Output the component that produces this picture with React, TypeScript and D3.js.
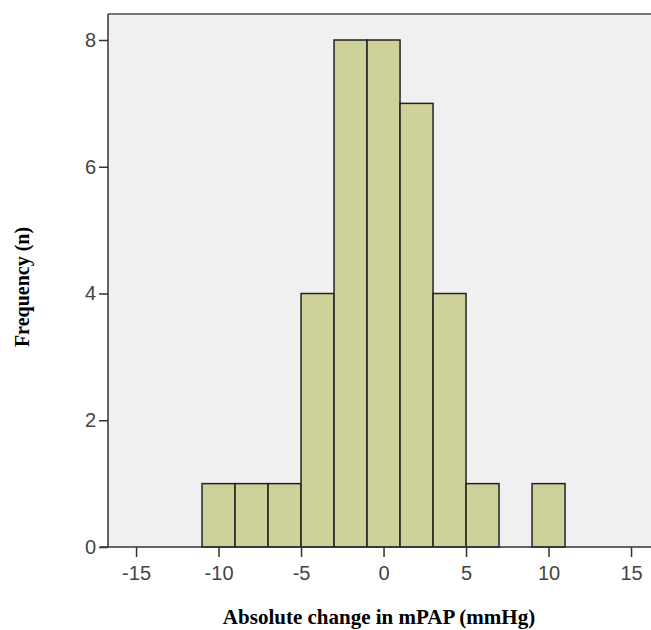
import * as d3 from 'd3';
import React, {useRef, useEffect} from 'react';

// histogram bins (width 2 mmHg) and counts
const binStarts = [-11, -9, -7, -5, -3, -1, 1, 3, 5, 7, 9];
const counts = [1, 1, 1, 4, 8, 8, 7, 4, 1, 0, 1];
const xTicks = [-15, -10, -5, 0, 5, 10, 15];
const yTicks = [0, 2, 4, 6, 8];

function Histogram(){
    const ref = useRef<SVGSVGElement>(null);

    const W = 651, H = 630;
    const left = 108, top = 14, bottom = 547, right = 660;

    useEffect(() => {
        const svg = d3.select(ref.current);
        svg.selectAll('*').remove();

        // plot runs off the right edge of the picture, 16.5px per mmHg
        const xMin = -16.7;
        const x = d3.scaleLinear().domain([xMin, xMin + (right - left) / 16.5]).range([left, right]);
        const y = d3.scaleLinear().domain([0, 8]).range([bottom, 40]);

        // plot background
        svg.append('rect')
            .attr('x', left).attr('y', top)
            .attr('width', right - left).attr('height', bottom - top)
            .attr('fill', '#f0f0f0');
        svg.append('line')
            .attr('x1', left).attr('x2', right)
            .attr('y1', top).attr('y2', top)
            .attr('stroke', '#777').attr('stroke-width', 2);

        // bars
        const data = binStarts.map((b, i) => ({b, n: counts[i]})).filter(d => d.n > 0);
        svg.selectAll('rect.bar')
            .data(data)
            .enter()
            .append('rect')
            .attr('class', 'bar')
            .attr('x', d => x(d.b))
            .attr('y', d => y(d.n))
            .attr('width', d => x(d.b + 2) - x(d.b))
            .attr('height', d => y(0) - y(d.n))
            .attr('fill', '#cfd19b')
            .attr('stroke', '#222')
            .attr('stroke-width', 1.5);

        // x axis
        const gx = svg.append('g')
            .attr('transform', `translate(0, ${bottom})`)
            .call(d3.axisBottom(x).tickValues(xTicks).tickSize(10).tickPadding(6).tickFormat(d => String(d)));
        gx.select('.domain').remove();
        svg.append('line')
            .attr('x1', left - 8).attr('x2', right)
            .attr('y1', bottom).attr('y2', bottom)
            .attr('stroke', '#333').attr('stroke-width', 1.5);

        // y axis
        const gy = svg.append('g')
            .attr('transform', `translate(${left}, 0)`)
            .call(d3.axisLeft(y).tickValues(yTicks).tickSize(9).tickPadding(3).tickFormat(d => String(d)));
        gy.select('.domain').remove();
        svg.append('line')
            .attr('x1', left).attr('x2', left)
            .attr('y1', top).attr('y2', bottom)
            .attr('stroke', '#333').attr('stroke-width', 1.5);

        svg.selectAll('.tick line').attr('stroke', '#333').attr('stroke-width', 1.5);
        svg.selectAll('.tick text')
            .attr('fill', '#444')
            .style('font-family', 'Liberation Sans, Arial, sans-serif')
            .style('font-size', '20px');
        gx.selectAll('.tick text').attr('dy', '0.85em');

        // titles
        svg.append('text')
            .attr('x', 379).attr('y', 624)
            .attr('text-anchor', 'middle')
            .style('font-family', 'Liberation Serif, Times New Roman, serif')
            .style('font-weight', 'bold')
            .style('font-size', '21px')
            .text('Absolute change in mPAP (mmHg)');
        svg.append('text')
            .attr('transform', 'translate(29, 287) rotate(-90)')
            .attr('text-anchor', 'middle')
            .style('font-family', 'Liberation Serif, Times New Roman, serif')
            .style('font-weight', 'bold')
            .style('font-size', '20px')
            .text('Frequency (n)');
    }, []);

    return (
        <svg ref={ref} width={W} height={H}
            style={{position: 'absolute', left: 0, top: 0, background: '#fff'}}>
        </svg>
    );
}

export default function App(){
    return <Histogram />;
}
